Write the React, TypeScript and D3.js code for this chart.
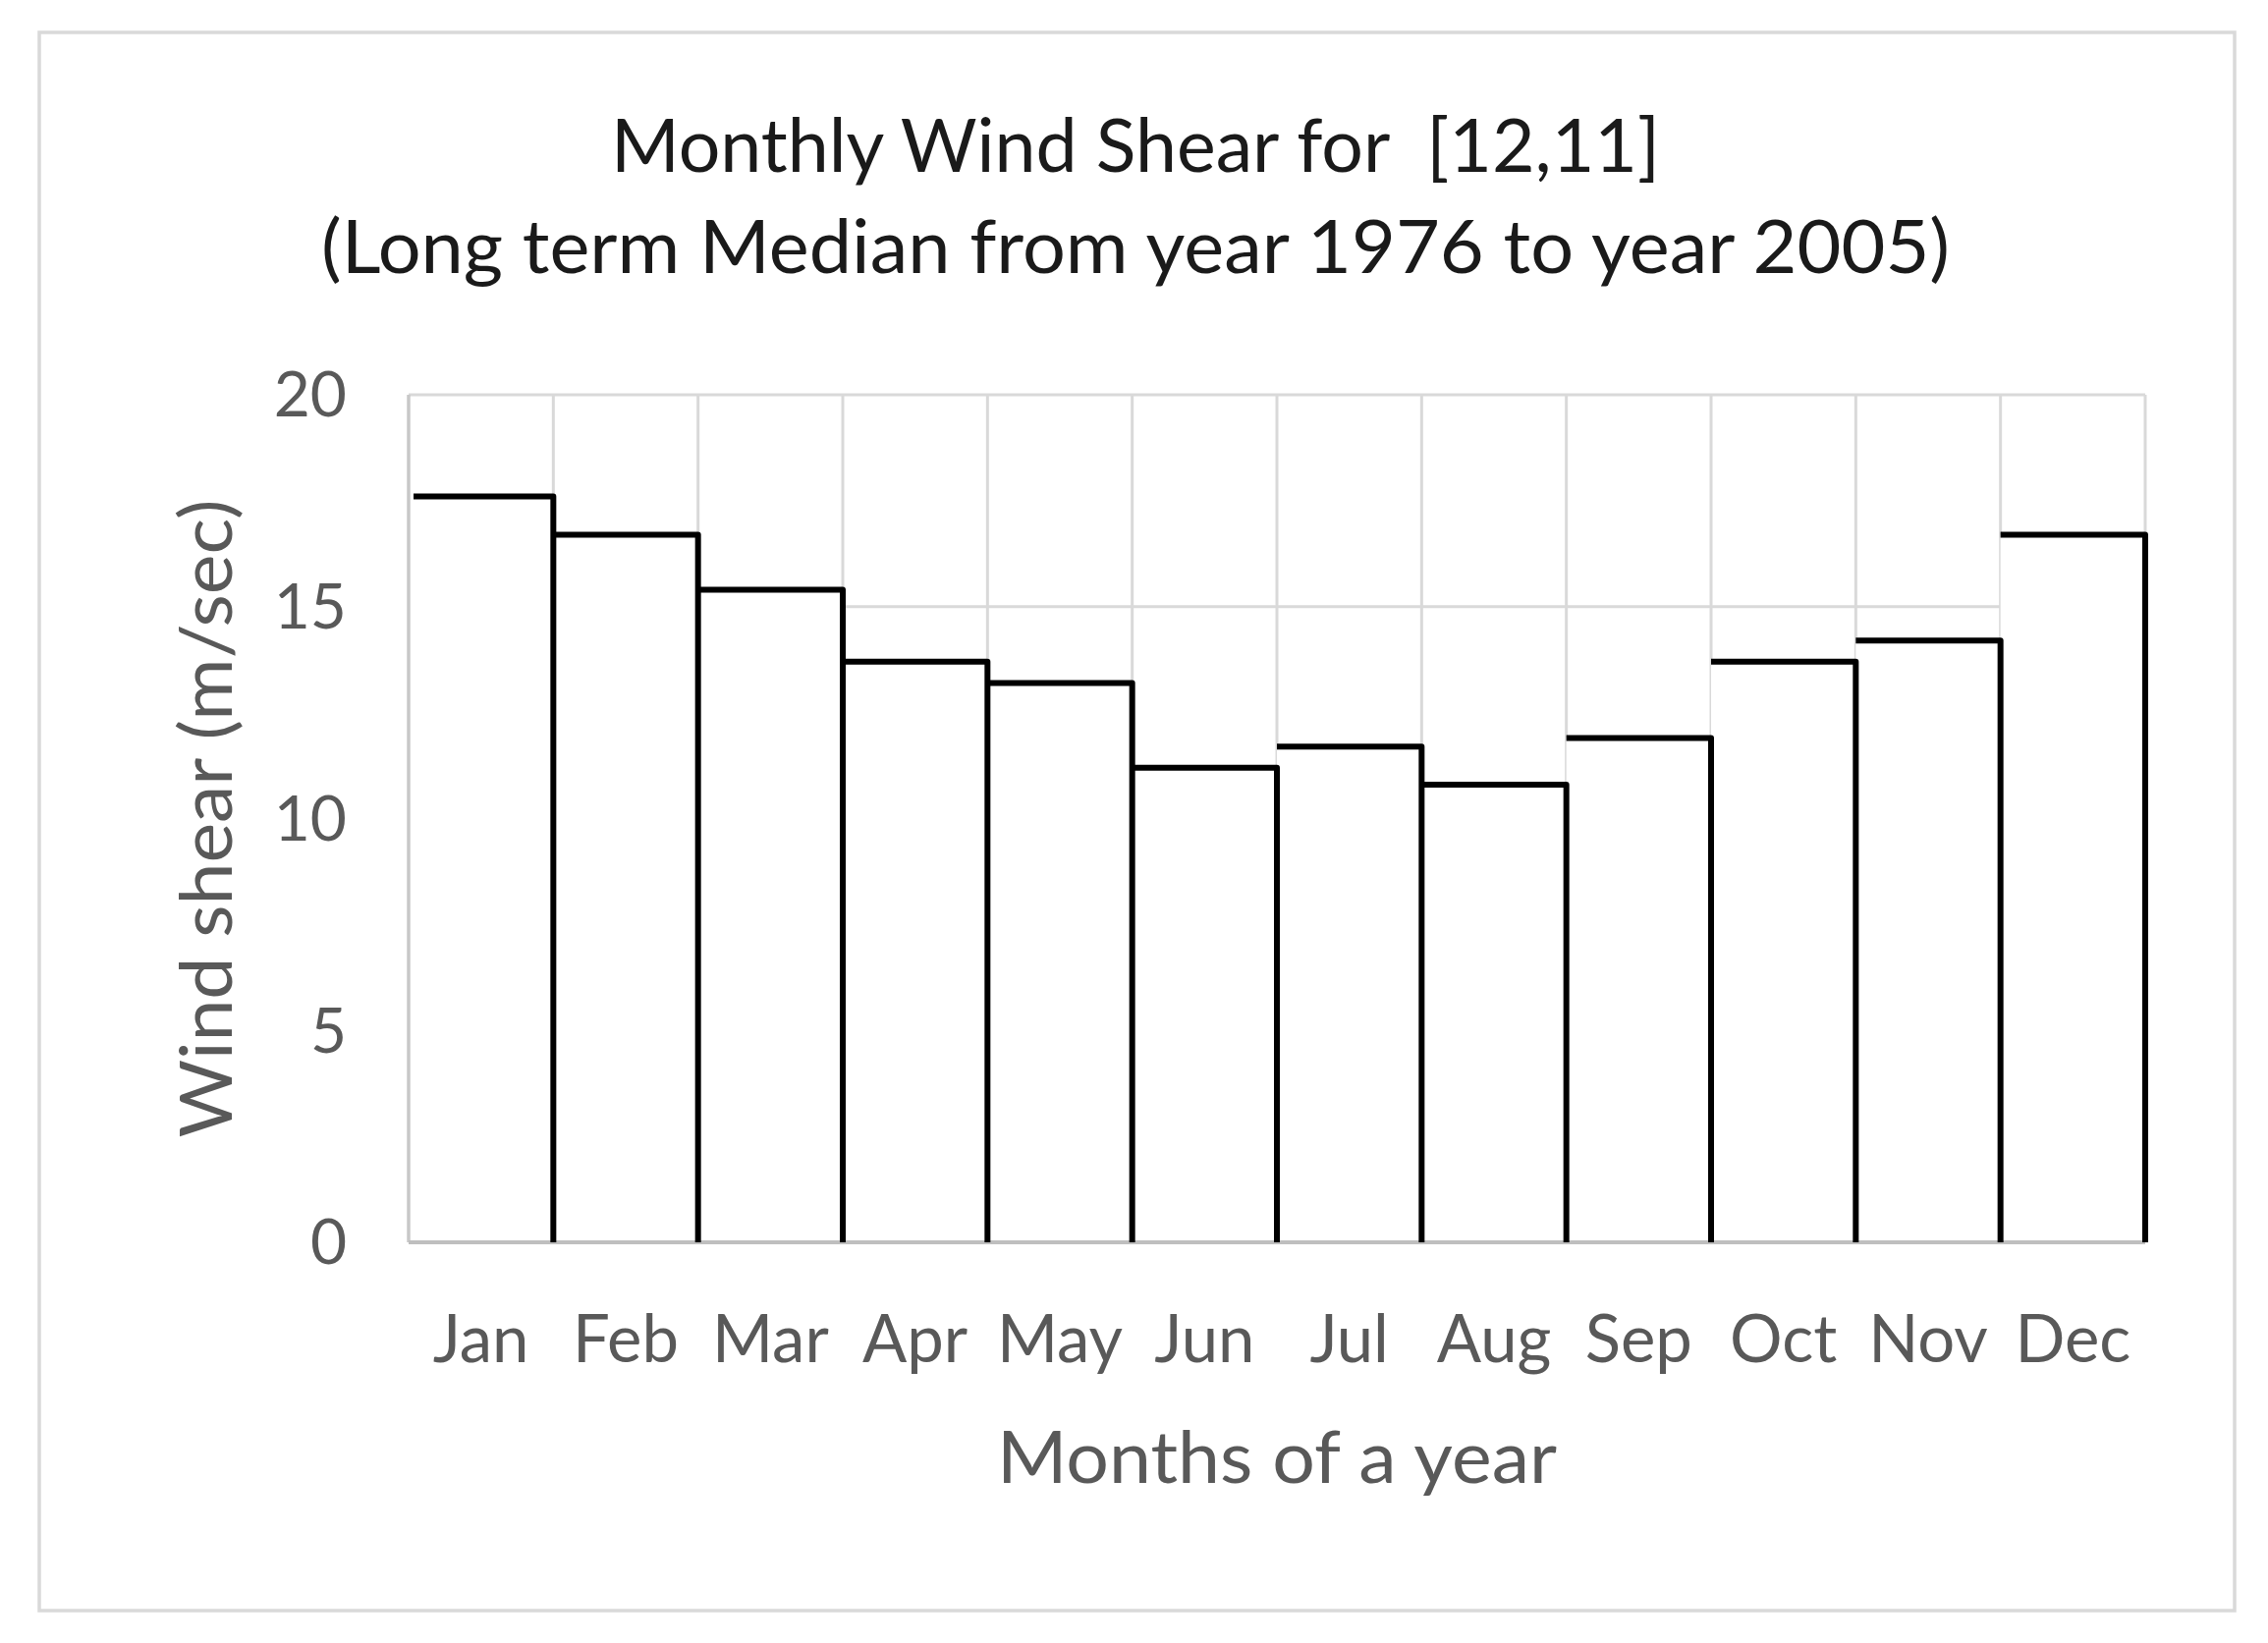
import React from "react";
import * as d3 from "d3";

// Monthly median wind shear
const months = ["Jan", "Feb", "Mar", "Apr", "May", "Jun", "Jul", "Aug", "Sep", "Oct", "Nov", "Dec"];
const windShear = [17.6, 16.7, 15.4, 13.7, 13.2, 11.2, 11.7, 10.8, 11.9, 13.7, 14.2, 16.7];
const yTicks = [0, 5, 10, 15, 20];
const titleLines = ["Monthly Wind Shear for  [12,11]", "(Long term Median from year 1976 to year 2005)"];

class WindShearChart extends React.Component {
  constructor(props: any) {
    super(props);
    this.createChart = this.createChart.bind(this);
  }

  componentDidMount() {
    this.createChart();
  }

  createChart() {
    var width = 2309,
      height = 1673;
    var plot = { left: 416, right: 2184, top: 402, bottom: 1265 };
    var font = "Lato, 'Open Sans', sans-serif";

    var root = d3.select("#windShearChart");
    root.selectAll("*").remove();

    var svg = root
      .append("svg")
      .attr("width", width)
      .attr("height", height)
      .style("position", "absolute")
      .style("left", 0)
      .style("top", 0)
      .style("background", "white");

    // outer chart frame
    svg
      .append("rect")
      .attr("x", 40)
      .attr("y", 33)
      .attr("width", 2235)
      .attr("height", 1607)
      .attr("fill", "white")
      .attr("stroke", "#d9d9d9")
      .attr("stroke-width", 3.5);

    var x = d3.scaleBand().domain(months).range([plot.left, plot.right]).padding(0);
    var y = d3.scaleLinear().domain([0, 20]).range([plot.bottom, plot.top]);

    // gridlines
    svg
      .selectAll("hgrid")
      .data(yTicks.filter((t) => t > 0))
      .enter()
      .append("line")
      .attr("x1", plot.left)
      .attr("x2", plot.right)
      .attr("y1", (d) => y(d))
      .attr("y2", (d) => y(d))
      .attr("stroke", "#d9d9d9")
      .attr("stroke-width", 3);

    svg
      .selectAll("vgrid")
      .data(months.slice(1).concat(["__end"]))
      .enter()
      .append("line")
      .attr("x1", (d) => (d === "__end" ? plot.right : (x(d) as number)))
      .attr("x2", (d) => (d === "__end" ? plot.right : (x(d) as number)))
      .attr("y1", plot.top)
      .attr("y2", plot.bottom)
      .attr("stroke", "#d9d9d9")
      .attr("stroke-width", 3);

    // white bar bodies hide the grid behind them
    svg
      .selectAll("bars")
      .data(windShear)
      .enter()
      .append("rect")
      .attr("x", (d, i) => x(months[i]) as number)
      .attr("y", (d) => y(d))
      .attr("width", x.bandwidth())
      .attr("height", (d) => y(0) - y(d))
      .attr("fill", "white");

    // axis lines
    svg
      .append("line")
      .attr("x1", plot.left)
      .attr("x2", plot.left)
      .attr("y1", plot.top)
      .attr("y2", plot.bottom)
      .attr("stroke", "#c8c8c8")
      .attr("stroke-width", 3.5);
    svg
      .append("line")
      .attr("x1", plot.left)
      .attr("x2", plot.right)
      .attr("y1", plot.bottom)
      .attr("y2", plot.bottom)
      .attr("stroke", "#bfbfbf")
      .attr("stroke-width", 4);

    // black outline: top edge + right edge of each bar
    svg
      .selectAll("outlines")
      .data(windShear)
      .enter()
      .append("path")
      .attr("d", function (d, i) {
        var x0 = x(months[i]) as number;
        var x1 = x0 + x.bandwidth();
        return "M" + (x0 + (i === 0 ? 5 : 0)) + "," + y(d) + "L" + x1 + "," + y(d) + "L" + x1 + "," + y(0);
      })
      .attr("fill", "none")
      .attr("stroke", "black")
      .attr("stroke-width", 6)
      .attr("stroke-linejoin", "round");

    // y tick labels
    svg
      .selectAll("ylabels")
      .data(yTicks)
      .enter()
      .append("text")
      .attr("x", 353)
      .attr("y", (d) => y(d))
      .attr("dy", "0.35em")
      .attr("text-anchor", "end")
      .style("font-family", font)
      .style("font-size", "64px")
      .attr("fill", "#595959")
      .text((d) => d);

    // x tick labels
    svg
      .selectAll("xlabels")
      .data(months)
      .enter()
      .append("text")
      .attr("x", (d) => (x(d) as number) + x.bandwidth() / 2)
      .attr("y", 1387)
      .attr("text-anchor", "middle")
      .style("font-family", font)
      .style("font-size", "67px")
      .attr("fill", "#595959")
      .text((d) => d);

    // axis titles
    svg
      .append("text")
      .attr("x", (plot.left + plot.right) / 2)
      .attr("y", 1510)
      .attr("text-anchor", "middle")
      .attr("textLength", 570)
      .attr("lengthAdjust", "spacingAndGlyphs")
      .style("font-family", font)
      .style("font-size", "74px")
      .attr("fill", "#595959")
      .text("Months of a year");

    svg
      .append("text")
      .attr("transform", "translate(236," + (plot.top + plot.bottom) / 2 + ") rotate(-90)")
      .attr("text-anchor", "middle")
      .attr("textLength", 650)
      .attr("lengthAdjust", "spacingAndGlyphs")
      .style("font-family", font)
      .style("font-size", "74px")
      .attr("fill", "#595959")
      .text("Wind shear (m/sec)");

    // title
    svg
      .selectAll("title")
      .data(titleLines)
      .enter()
      .append("text")
      .attr("x", 1156)
      .attr("y", (d, i) => 175 + i * 103)
      .attr("text-anchor", "middle")
      .attr("textLength", (d, i) => (i === 0 ? 1068 : 1658))
      .attr("lengthAdjust", "spacingAndGlyphs")
      .style("font-family", font)
      .style("font-size", "76px")
      .style("white-space", "pre")
      .attr("fill", "#1a1a1a")
      .text((d) => d);
  }

  render() {
    return <div id="windShearChart"></div>;
  }
}

export default function App() {
  return <WindShearChart />;
}
